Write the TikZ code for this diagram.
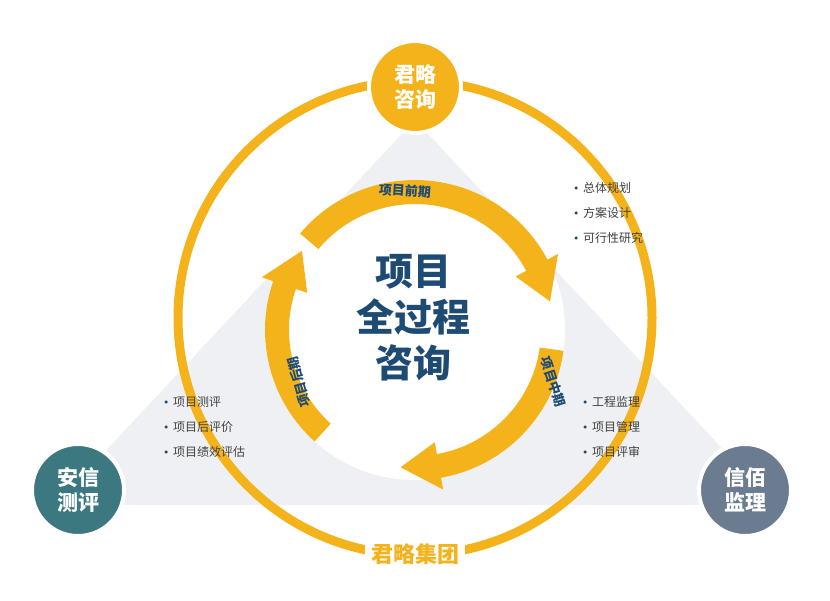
\documentclass[tikz,border=0pt]{standalone}
\usepackage{fontspec}
\newfontfamily\cjk{Noto Sans CJK SC}
\usetikzlibrary{calc}
\definecolor{gold}{HTML}{F4B21B}
\definecolor{navy}{HTML}{1E4B73}
\definecolor{teal1}{HTML}{3B7880}
\definecolor{slate}{HTML}{6C7C90}
\definecolor{tri}{HTML}{EEF0F3}
\tikzset{
  bul/.style={anchor=west,font=\cjk\fontsize{12}{13}\selectfont,text=black!75,inner sep=1pt},
  dot/.style={circle,fill=navy,inner sep=0pt,minimum size=3.5pt},
  arclab/.style={font=\cjk\bfseries\fontsize{13}{14}\selectfont,text=navy,inner sep=0pt},
  bigc/.style={circle,draw=white,line width=4pt,minimum size=92pt,inner sep=0pt,font=\cjk\bfseries\fontsize{21}{25}\selectfont,text=white,align=center}
}
\newcommand{\arcarrow}[6]{
  \fill[gold] ($#1+(#4:#2+#3/2)$) arc[start angle=#4,end angle=#5-#6,radius=#2+#3/2]
    -- ($#1+(#5-#6:#2+#3)$) -- ($#1+(#5:#2)$) -- ($#1+(#5-#6:#2-#3)$)
    -- ($#1+(#5-#6:#2-#3/2)$) arc[start angle=#5-#6,end angle=#4,radius=#2-#3/2] -- cycle;
}
\begin{document}
\begin{tikzpicture}[x=1pt,y=1pt]
\useasboundingbox (0,0) rectangle (830,600);
\fill[white] (0,0) rectangle (830,600);
\fill[tri] (415,480) -- (55,95) -- (775,95) -- cycle;
\draw[gold,line width=9pt] (415,282) circle[radius=237];
\fill[white] (415,270) circle[radius=150];
\arcarrow{(415,270)}{138}{24}{140}{12}{-16}
\arcarrow{(415,270)}{138}{24}{-8}{-96}{-16}
\arcarrow{(415,270)}{138}{24}{228}{145}{-16}
\node[arclab,rotate=-4] (pre) at (405,409) {项目前期};
\node[arclab,rotate=-72] (mid) at (553,218) {项目中期};
\node[arclab,rotate=106] (post) at (299,218) {项目后期};
\node[font=\cjk\bfseries\fontsize{38}{46}\selectfont,text=navy,align=center] (ctr) at (413,282) {项目\\全过程\\咨询};
\node[fill=white,font=\cjk\bfseries\fontsize{22}{24}\selectfont,text=gold,inner xsep=6pt] (grp) at (415,46) {君略集团};
\node[bigc,fill=gold] (top) at (415,513) {君略\\咨询};
\node[bigc,fill=teal1] (left) at (78,110) {安信\\测评};
\node[bigc,fill=slate] (right) at (745,110) {信佰\\监理};
\foreach \t [count=\i] in {总体规划,方案设计,可行性研究}{
  \node[dot] (d1\i) at (576,412-25*\i+25) {};
  \node[bul] (b1\i) at (582,412-25*\i+25) {\t};
}
\foreach \t [count=\i] in {工程监理,项目管理,项目评审}{
  \node[dot] (d2\i) at (585,198-25*\i+25) {};
  \node[bul] (b2\i) at (591,198-25*\i+25) {\t};
}
\foreach \t [count=\i] in {项目测评,项目后评价,项目绩效评估}{
  \node[dot] (d3\i) at (166,198-25*\i+25) {};
  \node[bul] (b3\i) at (172,198-25*\i+25) {\t};
}
\end{tikzpicture}
\end{document}
